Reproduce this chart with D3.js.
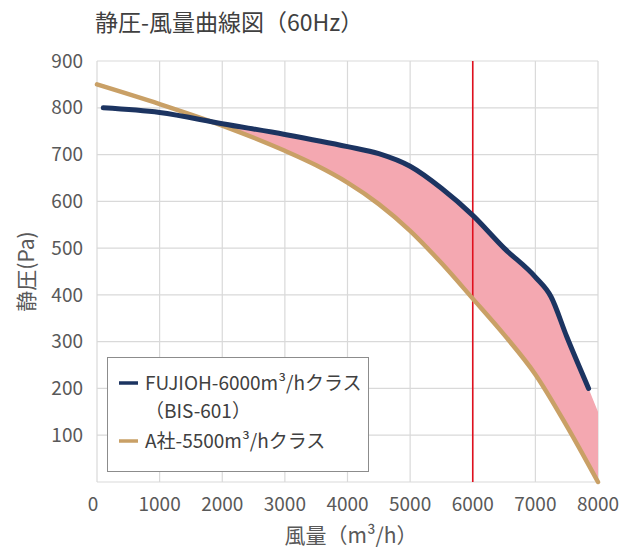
<!DOCTYPE html>
<html>
<head>
<meta charset="utf-8">
<script src="https://cdn.jsdelivr.net/npm/d3@7"></script>
<style>
  body { margin: 0; background: #fff; }
  svg { font-family: "Noto Sans CJK JP", "Noto Sans", sans-serif; }
</style>
</head>
<body>
<svg id="chart"></svg>
<script>
// Data
const fujiohFlow = [100, 1000, 2000, 3000, 4000, 4500, 5000, 5500, 6000, 6500, 7000, 7250, 7500, 7850];
const fujiohPressure = [800, 790, 766, 743, 717, 702, 675, 628, 570, 500, 438, 396, 311, 200];
const companyAFlow = [0, 1000, 2000, 3000, 3500, 4000, 4500, 5000, 5500, 6000, 6500, 7000, 7500, 8000];
const companyAPressure = [850, 808, 762, 708, 677, 640, 594, 537, 468, 392, 315, 230, 120, 0];
// the shaded band keeps going past the end of the FUJIOH curve
const bandExtraFlow = [8000];
const bandExtraPressure = [150];
const xTicks = [0, 1000, 2000, 3000, 4000, 5000, 6000, 7000, 8000];
const yTicks = [100, 200, 300, 400, 500, 600, 700, 800, 900];
const markerFlow = 6000;
const legendLabels = [["FUJIOH-6000m³/hクラス", "（BIS-601）"], ["A社-5500m³/hクラス"]];

const width = 633;
const height = 549;
const margin = { top: 61, right: 35, bottom: 67, left: 97 };

const svg = d3.select("#chart")
    .attr("width", width)
    .attr("height", height);

const x = d3.scaleLinear().domain([0, 8000]).range([margin.left, width - margin.right]);
const y = d3.scaleLinear().domain([0, 900]).range([height - margin.bottom, margin.top]);

const fujioh = fujiohFlow.map((f, i) => [f, fujiohPressure[i]]);
const companyA = companyAFlow.map((f, i) => [f, companyAPressure[i]]);
const band = fujioh.concat(bandExtraFlow.map((f, i) => [f, bandExtraPressure[i]]));

// gridlines
svg.append("g")
    .selectAll("line")
    .data([0].concat(yTicks))
    .join("line")
    .attr("x1", x(0)).attr("x2", x(8000))
    .attr("y1", d => y(d)).attr("y2", d => y(d))
    .attr("stroke", "#d9d9d9").attr("stroke-width", 1.2);

svg.append("g")
    .selectAll("line")
    .data(xTicks)
    .join("line")
    .attr("x1", d => x(d)).attr("x2", d => x(d))
    .attr("y1", y(0)).attr("y2", y(900))
    .attr("stroke", "#d9d9d9").attr("stroke-width", 1.2);

// tick labels
svg.append("g")
    .selectAll("text")
    .data(yTicks)
    .join("text")
    .attr("x", x(0) - 14)
    .attr("y", d => y(d))
    .attr("dy", "0.35em")
    .attr("text-anchor", "end")
    .attr("font-size", 19)
    .attr("fill", "#595959")
    .text(d => d);

svg.append("g")
    .selectAll("text")
    .data(xTicks)
    .join("text")
    .attr("x", d => x(d) - (d === 0 ? 4 : 0))
    .attr("y", y(0) + 22)
    .attr("dy", "0.35em")
    .attr("text-anchor", "middle")
    .attr("font-size", 19)
    .attr("fill", "#595959")
    .text(d => d);

// shaded difference: under the FUJIOH curve, clipped to above the A-company curve
const lineGen = d3.line().x(d => x(d[0])).y(d => y(d[1])).curve(d3.curveMonotoneX);

svg.append("clipPath")
    .attr("id", "aboveA")
    .append("path")
    .attr("d", d3.area().x(d => x(d[0])).y0(y(900)).y1(d => y(d[1])).curve(d3.curveMonotoneX)(companyA));

svg.append("path")
    .attr("d", d3.area().x(d => x(d[0])).y0(y(0)).y1(d => y(d[1])).curve(d3.curveMonotoneX)(band))
    .attr("fill", "#f4a8b1")
    .attr("clip-path", "url(#aboveA)");

// 6000 marker
svg.append("line")
    .attr("x1", x(markerFlow)).attr("x2", x(markerFlow))
    .attr("y1", y(0)).attr("y2", y(900))
    .attr("stroke", "#e0101e").attr("stroke-width", 1.6);

// curves
svg.append("path")
    .attr("d", lineGen(companyA))
    .attr("fill", "none")
    .attr("stroke", "#c9a066")
    .attr("stroke-width", 4.5)
    .attr("stroke-linecap", "round");

svg.append("path")
    .attr("d", lineGen(fujioh))
    .attr("fill", "none")
    .attr("stroke", "#1c3461")
    .attr("stroke-width", 5)
    .attr("stroke-linecap", "round");

// legend
const legend = svg.append("g");
legend.append("rect")
    .attr("x", 107.5).attr("y", 357.5)
    .attr("width", 261).attr("height", 114)
    .attr("fill", "#fff")
    .attr("stroke", "#8c8c8c").attr("stroke-width", 1);

const legendColors = ["#1c3461", "#c9a066"];
const legendRows = [383, 441];
legendLabels.forEach((lines, i) => {
    legend.append("line")
        .attr("x1", 119).attr("x2", 138)
        .attr("y1", legendRows[i]).attr("y2", legendRows[i])
        .attr("stroke", legendColors[i]).attr("stroke-width", 3.5);
    lines.forEach((t, j) => {
        legend.append("text")
            .attr("x", 145)
            .attr("y", legendRows[i] + j * 28)
            .attr("dy", "0.35em")
            .attr("font-size", 19)
            .attr("fill", "#404040")
            .text(t);
    });
});

// titles
svg.append("text")
    .attr("x", 95).attr("y", 31)
    .attr("font-size", 23)
    .attr("fill", "#404040")
    .text("静圧-風量曲線図（60Hz）");

svg.append("text")
    .attr("transform", `translate(27, ${(y(0) + y(900)) / 2}) rotate(-90)`)
    .attr("text-anchor", "middle")
    .attr("dy", "0.35em")
    .attr("font-size", 21)
    .attr("fill", "#595959")
    .text("静圧(Pa)");

svg.append("text")
    .attr("x", 351)
    .attr("y", 536)
    .attr("dy", "0.35em")
    .attr("text-anchor", "middle")
    .attr("font-size", 21)
    .attr("fill", "#595959")
    .text("風量（m³/h）");
</script>
</body>
</html>
